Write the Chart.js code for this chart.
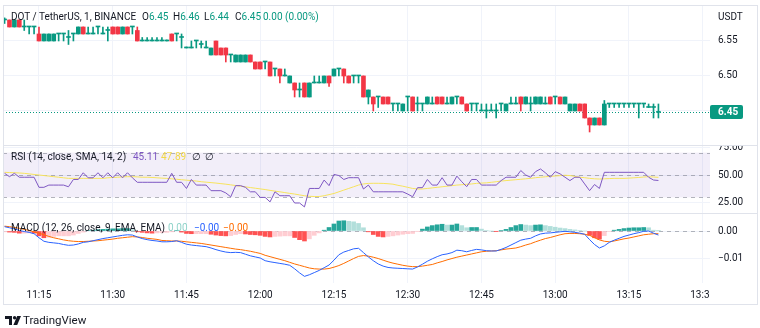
<!DOCTYPE html>
<html>
<head>
<meta charset="utf-8">
<script src="https://cdn.jsdelivr.net/npm/chart.js@4.4.0/dist/chart.umd.min.js"></script>
<style>
  html, body { margin: 0; padding: 0; background: #fff; }
  #wrap { position: relative; width: 760px; height: 328px; overflow: hidden; font-family: Roboto, "Liberation Sans", sans-serif; color: #131722; }
  #chart { position: absolute; left: 0; top: 0; }
  .t { position: absolute; white-space: nowrap; font-size: 10px; line-height: 12px; }
  .up { color: #089981; }
</style>
</head>
<body>
<div id="wrap">
  <canvas id="chart" width="760" height="328"></canvas>

  <div class="t" style="left:11px;top:11px">DOT / TetherUS, 1, BINANCE</div>
  <div class="t" style="left:142px;top:11px">O<span class="up">6.45</span></div>
  <div class="t" style="left:173px;top:11px">H<span class="up">6.46</span></div>
  <div class="t" style="left:204px;top:11px">L<span class="up">6.44</span></div>
  <div class="t" style="left:235px;top:11px">C<span class="up">6.45</span></div>
  <div class="t up" style="left:263px;top:11px">0.00 (0.00%)</div>
  <div class="t" style="left:718px;top:11px">USDT</div>

  <div class="t" style="left:11px;top:151px">RSI (14, close, SMA, 14, 2)</div>
  <div class="t" style="left:133px;top:151px;color:#7e57c2">45.11</div>
  <div class="t" style="left:161px;top:151px;color:#f2d84a">47.89</div>
  <div class="t" style="left:192px;top:151px">∅</div>
  <div class="t" style="left:205px;top:151px">∅</div>

  <div class="t" style="left:11px;top:222px">MACD (12, 26, close, 9, EMA, EMA)</div>
  <div class="t" style="left:168px;top:222px;color:#8fd3c9">0.00</div>
  <div class="t" style="left:194px;top:222px;color:#2962ff">−0.00</div>
  <div class="t" style="left:223px;top:222px;color:#ff6d00">−0.00</div>

  <svg style="position:absolute;left:5px;top:316px" width="16" height="9" viewBox="0 0 16 9">
    <path d="M0 0h7v9H4V3H0z" fill="#131722"/>
    <circle cx="9.6" cy="1.7" r="1.7" fill="#131722"/>
    <path d="M12.2 0H16l-3.8 9H8.4z" fill="#131722"/>
  </svg>
  <div class="t" style="left:23px;top:314px;font-size:11.5px;line-height:13px">TradingView</div>
</div>

<script>
// one-minute candles, DOT/USDT
const times = [
  '11:08','11:09','11:10','11:11','11:12','11:13','11:14','11:15','11:16','11:17',
  '11:18','11:19','11:20','11:21','11:22','11:23','11:24','11:25','11:26','11:27',
  '11:28','11:29','11:30','11:31','11:32','11:33','11:34','11:35','11:36','11:37',
  '11:38','11:39','11:40','11:41','11:42','11:43','11:44','11:45','11:46','11:47',
  '11:48','11:49','11:50','11:51','11:52','11:53','11:54','11:55','11:56','11:57',
  '11:58','11:59','12:00','12:01','12:02','12:03','12:04','12:05','12:06','12:07',
  '12:08','12:09','12:10','12:11','12:12','12:13','12:14','12:15','12:16','12:17',
  '12:18','12:19','12:20','12:21','12:22','12:23','12:24','12:25','12:26','12:27',
  '12:28','12:29','12:30','12:31','12:32','12:33','12:34','12:35','12:36','12:37',
  '12:38','12:39','12:40','12:41','12:42','12:43','12:44','12:45','12:46','12:47',
  '12:48','12:49','12:50','12:51','12:52','12:53','12:54','12:55','12:56','12:57',
  '12:58','12:59','13:00','13:01','13:02','13:03','13:04','13:05','13:06','13:07',
  '13:08','13:09','13:10','13:11','13:12','13:13','13:14','13:15','13:16','13:17',
  '13:18','13:19','13:20','13:21'
];

const open = [
  6.58,6.58,6.57,6.58,6.57,6.57,6.57,6.56,6.55,6.55,
  6.55,6.56,6.56,6.555,6.56,6.56,6.57,6.56,6.56,6.57,
  6.56,6.565,6.57,6.57,6.56,6.57,6.57,6.565,6.55,6.55,
  6.55,6.55,6.55,6.55,6.56,6.56,6.555,6.54,6.54,6.55,
  6.545,6.54,6.53,6.55,6.54,6.54,6.53,6.52,6.52,6.52,
  6.53,6.52,6.52,6.52,6.52,6.51,6.51,6.50,6.49,6.49,
  6.48,6.49,6.47,6.49,6.49,6.49,6.50,6.50,6.51,6.51,
  6.50,6.50,6.50,6.50,6.47,6.47,6.47,6.47,6.47,6.46,
  6.46,6.45,6.47,6.47,6.46,6.46,6.46,6.46,6.47,6.47,
  6.46,6.46,6.47,6.47,6.46,6.46,6.46,6.45,6.45,6.45,
  6.45,6.46,6.45,6.46,6.46,6.47,6.46,6.46,6.46,6.46,
  6.46,6.47,6.47,6.47,6.46,6.45,6.45,6.46,6.46,6.44,
  6.43,6.44,6.43,6.46,6.46,6.46,6.46,6.46,6.46,6.46,
  6.46,6.455,6.455,6.448
];
const high = [
  6.583,6.58,6.58,6.58,6.58,6.57,6.57,6.57,6.56,6.56,
  6.56,6.56,6.56,6.565,6.56,6.57,6.57,6.57,6.57,6.57,
  6.57,6.57,6.57,6.57,6.57,6.57,6.57,6.57,6.555,6.555,
  6.555,6.555,6.555,6.55,6.56,6.56,6.56,6.54,6.55,6.55,
  6.55,6.55,6.54,6.55,6.54,6.54,6.53,6.53,6.53,6.53,
  6.53,6.52,6.52,6.52,6.52,6.51,6.51,6.51,6.50,6.49,
  6.49,6.49,6.49,6.50,6.50,6.50,6.50,6.51,6.51,6.51,
  6.50,6.50,6.50,6.50,6.48,6.47,6.47,6.47,6.47,6.46,
  6.46,6.46,6.47,6.47,6.47,6.46,6.47,6.47,6.47,6.47,
  6.47,6.47,6.47,6.47,6.46,6.46,6.46,6.46,6.46,6.46,
  6.46,6.46,6.46,6.47,6.47,6.47,6.47,6.47,6.47,6.47,
  6.47,6.47,6.47,6.47,6.47,6.46,6.46,6.46,6.46,6.44,
  6.44,6.44,6.465,6.46,6.46,6.46,6.46,6.46,6.46,6.46,
  6.46,6.46,6.46,6.46
];
const low = [
  6.575,6.57,6.57,6.57,6.565,6.56,6.56,6.55,6.55,6.55,
  6.55,6.55,6.55,6.545,6.55,6.56,6.56,6.56,6.56,6.56,
  6.56,6.55,6.56,6.56,6.56,6.56,6.56,6.55,6.55,6.55,
  6.55,6.55,6.55,6.55,6.55,6.55,6.54,6.54,6.54,6.54,
  6.54,6.54,6.53,6.53,6.53,6.52,6.52,6.52,6.52,6.52,
  6.52,6.51,6.51,6.51,6.50,6.50,6.49,6.50,6.49,6.47,
  6.47,6.47,6.47,6.49,6.49,6.49,6.485,6.50,6.50,6.49,
  6.49,6.49,6.49,6.47,6.46,6.45,6.455,6.46,6.46,6.45,
  6.45,6.45,6.45,6.45,6.45,6.45,6.46,6.46,6.46,6.46,
  6.46,6.46,6.46,6.46,6.45,6.45,6.45,6.45,6.44,6.45,
  6.44,6.45,6.45,6.46,6.46,6.45,6.46,6.45,6.46,6.46,
  6.46,6.46,6.46,6.46,6.46,6.45,6.45,6.45,6.44,6.42,
  6.43,6.43,6.43,6.455,6.455,6.455,6.455,6.455,6.455,6.44,
  6.455,6.455,6.44,6.44
];
const close = [
  6.58,6.57,6.58,6.57,6.57,6.57,6.57,6.55,6.56,6.56,
  6.56,6.56,6.56,6.555,6.56,6.57,6.56,6.56,6.56,6.57,
  6.56,6.565,6.56,6.56,6.57,6.56,6.57,6.55,6.55,6.55,
  6.55,6.55,6.55,6.55,6.55,6.56,6.555,6.54,6.54,6.55,
  6.545,6.54,6.54,6.53,6.53,6.53,6.53,6.53,6.53,6.53,
  6.52,6.51,6.51,6.52,6.50,6.51,6.50,6.50,6.50,6.48,
  6.48,6.47,6.49,6.49,6.49,6.50,6.49,6.51,6.51,6.50,
  6.49,6.50,6.50,6.47,6.48,6.46,6.47,6.46,6.46,6.46,
  6.46,6.46,6.47,6.45,6.46,6.46,6.47,6.46,6.46,6.46,
  6.46,6.47,6.47,6.46,6.45,6.46,6.46,6.45,6.45,6.45,
  6.45,6.46,6.46,6.46,6.46,6.46,6.47,6.46,6.47,6.47,
  6.46,6.46,6.47,6.46,6.47,6.46,6.46,6.45,6.44,6.43,
  6.44,6.43,6.46,6.46,6.46,6.46,6.46,6.46,6.46,6.46,
  6.46,6.455,6.455,6.448
];

// RSI (14) and its SMA (14)
const rsi = [
  51.5,48.5,51.5,48,48,48,48,39,39,41,
  41,41,41,39.5,46,46,52,47.5,47.5,52,
  47.5,52,47.5,52,47.5,52,47.5,43.5,43.5,43.5,
  43.5,43.5,43.5,43.5,51.5,43.5,43.5,38,46,41,
  41,41,36,36,36,34,30.5,40.5,40.5,39,
  35,35,30,30,26,35,31.5,31.5,31.5,25,
  25,21.5,38,38,38,45.5,40.5,50.5,49.5,46,
  47.6,47.6,47.6,37.5,41,35,35,35,35,35,
  35,35,33,30.6,38.7,38.7,46,41,41,47.6,
  41,41,49,44,39.6,46,46,41,41,41,
  41,45,48,48,48,54,50,48,53,55.4,
  52,48,53,51,48,45,48,48,42,36,
  41.5,38,52.4,52.4,52.4,52.4,52.4,52.4,52.4,52.4,
  52.4,48,45.5,45.11
];
const rsiMa = [
  52.4,52.2,52,51.8,51.5,51,50.5,50,49.5,49,
  48.5,48,47.5,47,47,47,47,47,47,47,
  47,47.5,47.8,48,48.3,48.5,48.5,48.3,48,48,
  47.8,47.5,47.2,47,46.6,46.2,45.8,45.4,45,44.6,
  44,43.6,43.2,42.8,42.3,41.8,41.2,40.6,40,39.4,
  38.8,38.2,37.6,37,36.3,35.6,35,34.3,33.6,33,
  32.2,31.5,31,30.8,30.8,31.5,32.5,33.5,35,36.5,
  38,39.5,41,42,42.5,42.6,42.6,42.5,42.2,41.8,
  40.8,40,39,38,37.5,37.5,38,38.5,39,39.5,
  40,40.5,41,41.3,41.7,42,42.5,42.8,43,43.5,
  44,44.6,45,45.4,45.8,46.2,46.6,47,47.6,48,
  48.4,48.8,49.1,49.4,49.8,49.5,48.8,48,47.6,47,
  46.6,46.4,46.6,46.8,47,47,47,47.2,47.5,47.8,
  48.2,48.5,48.2,47.89
];

// MACD (12, 26, 9)
const macd = [
  0.0016,0.0012,0.0008,0.0002,-0.0002,-0.0005,-0.0010,-0.0025,-0.0038,-0.0042,
  -0.0044,-0.0046,-0.0050,-0.0053,-0.0052,-0.0048,-0.0042,-0.0040,-0.0036,-0.0032,
  -0.0028,-0.0025,-0.0022,-0.0019,-0.0016,-0.0014,-0.0015,-0.0022,-0.0028,-0.0032,
  -0.0035,-0.0037,-0.0040,-0.0040,-0.0039,-0.0036,-0.0042,-0.0049,-0.0052,-0.0054,
  -0.0056,-0.0058,-0.0063,-0.0069,-0.0074,-0.0078,-0.0080,-0.0079,-0.0080,-0.0086,
  -0.0092,-0.0096,-0.0100,-0.0110,-0.0114,-0.0117,-0.0120,-0.0123,-0.0127,-0.0140,
  -0.0155,-0.0168,-0.0162,-0.0154,-0.0146,-0.0136,-0.0126,-0.0108,-0.0088,-0.0078,
  -0.0072,-0.0066,-0.0064,-0.0080,-0.0096,-0.0110,-0.0122,-0.0130,-0.0135,-0.0137,
  -0.0138,-0.0139,-0.0140,-0.0141,-0.0133,-0.0123,-0.0112,-0.0103,-0.0095,-0.0088,
  -0.0085,-0.0080,-0.0071,-0.0073,-0.0077,-0.0072,-0.0068,-0.0070,-0.0073,-0.0074,
  -0.0074,-0.0068,-0.0061,-0.0052,-0.0043,-0.0034,-0.0030,-0.0027,-0.0018,-0.0011,
  -0.0008,-0.0007,-0.0005,-0.0003,-0.0001,-0.0003,-0.0005,-0.0008,-0.0012,-0.0032,
  -0.0050,-0.0063,-0.0055,-0.0042,-0.0034,-0.0027,-0.0020,-0.0015,-0.0010,-0.0006,
  -0.0001,0.0000,-0.0008,-0.0015
];
const signal = [
  0.0018,0.0016,0.0013,0.0010,0.0006,0.0002,-0.0003,-0.0008,-0.0014,-0.0020,
  -0.0025,-0.0029,-0.0033,-0.0036,-0.0038,-0.0039,-0.0039,-0.0038,-0.0037,-0.0036,
  -0.0034,-0.0032,-0.0030,-0.0027,-0.0025,-0.0023,-0.0021,-0.0022,-0.0024,-0.0027,
  -0.0029,-0.0031,-0.0035,-0.0036,-0.0037,-0.0037,-0.0038,-0.0040,-0.0042,-0.0044,
  -0.0046,-0.0049,-0.0052,-0.0055,-0.0058,-0.0061,-0.0064,-0.0067,-0.0069,-0.0072,
  -0.0075,-0.0079,-0.0083,-0.0090,-0.0095,-0.0100,-0.0105,-0.0110,-0.0116,-0.0122,
  -0.0127,-0.0132,-0.0137,-0.0140,-0.0141,-0.0141,-0.0139,-0.0134,-0.0128,-0.0120,
  -0.0111,-0.0102,-0.0094,-0.0091,-0.0093,-0.0097,-0.0102,-0.0108,-0.0114,-0.0119,
  -0.0123,-0.0127,-0.0130,-0.0132,-0.0132,-0.0130,-0.0127,-0.0124,-0.0118,-0.0113,
  -0.0107,-0.0102,-0.0097,-0.0093,-0.0089,-0.0085,-0.0081,-0.0077,-0.0075,-0.0074,
  -0.0073,-0.0070,-0.0067,-0.0065,-0.0063,-0.0058,-0.0052,-0.0047,-0.0040,-0.0034,
  -0.0028,-0.0024,-0.0019,-0.0014,-0.0010,-0.0009,-0.0009,-0.0010,-0.0012,-0.0016,
  -0.0025,-0.0033,-0.0038,-0.0040,-0.0037,-0.0033,-0.0029,-0.0026,-0.0022,-0.0018,
  -0.0014,-0.0012,-0.0010,-0.0010
];
const hist = [
  -0.0003,-0.0004,-0.0005,-0.0008,-0.0008,-0.0007,-0.0008,-0.0018,-0.0025,-0.0023,
  -0.0020,-0.0018,-0.0018,-0.0018,-0.0015,-0.0009,-0.0004,0.0002,0.0003,0.0005,
  0.0006,0.0007,0.0008,0.0008,0.0009,0.0009,0.0005,-0.0003,-0.0005,-0.0007,
  -0.0008,-0.0007,-0.0006,-0.0005,-0.0003,0.0002,-0.0004,-0.0009,-0.0010,-0.0010,
  -0.0010,-0.0010,-0.0012,-0.0015,-0.0017,-0.0018,-0.0017,-0.0013,-0.0010,-0.0011,
  -0.0013,-0.0014,-0.0016,-0.0020,-0.0022,-0.0020,-0.0019,-0.0018,-0.0018,-0.0024,
  -0.0032,-0.0037,-0.0029,-0.0016,-0.0007,0.0003,0.0013,0.0026,0.0037,0.0038,
  0.0036,0.0034,0.0028,0.0012,-0.0003,-0.0013,-0.0020,-0.0022,-0.0020,-0.0018,
  -0.0015,-0.0012,-0.0010,-0.0009,-0.0001,0.0007,0.0015,0.0020,0.0023,0.0025,
  0.0022,0.0022,0.0026,0.0020,0.0012,0.0013,0.0013,0.0007,0.0002,0.0000,
  -0.0001,0.0002,0.0006,0.0013,0.0020,0.0024,0.0022,0.0020,0.0022,0.0023,
  0.0020,0.0017,0.0014,0.0011,0.0009,0.0006,0.0004,0.0002,0.0000,-0.0016,
  -0.0025,-0.0030,-0.0017,-0.0002,0.0003,0.0006,0.0009,0.0011,0.0012,0.0012,
  0.0013,0.0012,0.0003,0.0001
];

const timeTicks = ['11:15','11:30','11:45','12:00','12:15','12:30','12:45','13:00','13:15','13:30'];
const priceTicks = [6.45, 6.50, 6.55];
const rsiTicks = [25, 50, 75];
const macdTicks = [0, -0.01];

// minutes after 11:00
function toMin(t) {
  const [h, m] = t.split(':').map(Number);
  return (h - 11) * 60 + m;
}
const xs = times.map(toMin);

const up = '#089981', down = '#f23645';
const candleColor = open.map((o, i) => close[i] >= o ? up : down);
const histColor = hist.map((v, i) => {
  const p = i ? hist[i - 1] : v;
  if (v >= 0) return v >= p ? '#26a69a' : '#b2dfdb';
  return v < p ? '#ff5252' : '#ffcdd2';
});
const last = close.length - 1;
const font = { family: 'Roboto', size: 10 };
const gridColor = '#f0f3fa';

function hline(ctx, x1, x2, y) {
  ctx.beginPath();
  ctx.moveTo(x1, Math.round(y) + 0.5);
  ctx.lineTo(x2, Math.round(y) + 0.5);
  ctx.stroke();
}

// no extra room for tick labels: panes sit exactly on the layout padding
function noPad(s) {
  s.paddingTop = 0;
  s.paddingBottom = 0;
  s.paddingLeft = 0;
  s.paddingRight = 0;
}

const panes = {
  id: 'panes',
  beforeDatasetsDraw(chart) {
    const { ctx, chartArea: a, scales } = chart;
    const yR = scales.yR, yM = scales.yM, yP = scales.yP;
    ctx.save();
    // RSI band
    const y70 = yR.getPixelForValue(70), y30 = yR.getPixelForValue(30);
    ctx.fillStyle = 'rgba(126, 87, 194, 0.1)';
    ctx.fillRect(a.left, y70, a.right - a.left, y30 - y70);
    ctx.strokeStyle = 'rgba(120, 123, 134, 0.55)';
    ctx.lineWidth = 1;
    ctx.setLineDash([4, 4]);
    [70, 50, 30].forEach(v => hline(ctx, a.left, a.right, yR.getPixelForValue(v)));
    hline(ctx, a.left, a.right, yM.getPixelForValue(0));
    // last price line
    ctx.strokeStyle = up;
    ctx.setLineDash([1, 2]);
    hline(ctx, a.left, a.right, yP.getPixelForValue(close[last]));
    ctx.restore();
  },
  afterDraw(chart) {
    const { ctx, chartArea: a, scales } = chart;
    const yR = scales.yR, yP = scales.yP;
    ctx.save();
    ctx.fillStyle = '#fff';
    ctx.fillRect(a.right, a.bottom + 1, 760 - a.right, 22);
    ctx.fillRect(a.right + 1, yR.top - 8, 50, 8);
    ctx.strokeStyle = '#e0e3eb';
    ctx.lineWidth = 1;
    hline(ctx, 3, 757, yP.bottom - 0.5);
    hline(ctx, 3, 757, yR.bottom - 0.5);
    ctx.strokeRect(3.5, 5.5, 754, 299);
    // last price label
    const yc = Math.round(yP.getPixelForValue(close[last]));
    ctx.fillStyle = up;
    ctx.beginPath();
    ctx.roundRect(a.right, yc - 7, 33, 14, 2);
    ctx.fill();
    ctx.fillStyle = '#fff';
    ctx.font = 'bold 10px Roboto';
    ctx.textBaseline = 'middle';
    ctx.fillText(close[last].toFixed(2), 718, yc + 0.5);
    ctx.restore();
  }
};

function yAxis(weight, min, max, ticks, fmt) {
  return {
    position: 'right',
    stack: 'panes',
    stackWeight: weight,
    min: min,
    max: max,
    bounds: 'data',
    offset: false,
    grid: { color: gridColor, drawTicks: false },
    border: { display: false },
    ticks: { autoSkip: false, padding: 8, color: '#131722', font: font, callback: fmt },
    afterBuildTicks: s => { s.ticks = ticks.map(v => ({ value: v })); },
    afterFit: s => { s.width = 47; noPad(s); }
  };
}

new Chart(document.getElementById('chart'), {
  type: 'bar',
  data: {
    datasets: [
      {
        label: 'body',
        data: xs.map((x, i) => ({ x: x, y: [open[i], close[i]] })),
        yAxisID: 'yP',
        backgroundColor: candleColor,
        barThickness: 4,
        minBarLength: 1,
        grouped: false
      },
      {
        label: 'wick',
        data: xs.map((x, i) => ({ x: x, y: [low[i], high[i]] })),
        yAxisID: 'yP',
        backgroundColor: candleColor,
        barThickness: 1,
        minBarLength: 1,
        grouped: false
      },
      {
        type: 'line',
        label: 'RSI',
        data: xs.map((x, i) => ({ x: x, y: rsi[i] })),
        yAxisID: 'yR',
        borderColor: '#7e57c2',
        borderWidth: 1,
        pointRadius: 0
      },
      {
        type: 'line',
        label: 'RSI MA',
        data: xs.map((x, i) => ({ x: x, y: rsiMa[i] })),
        yAxisID: 'yR',
        borderColor: '#f7e35c',
        borderWidth: 1,
        pointRadius: 0
      },
      {
        type: 'line',
        label: 'MACD',
        data: xs.map((x, i) => ({ x: x, y: macd[i] })),
        yAxisID: 'yM',
        borderColor: '#2962ff',
        borderWidth: 1,
        pointRadius: 0
      },
      {
        type: 'line',
        label: 'Signal',
        data: xs.map((x, i) => ({ x: x, y: signal[i] })),
        yAxisID: 'yM',
        borderColor: '#ff6d00',
        borderWidth: 1,
        pointRadius: 0
      },
      {
        label: 'Histogram',
        data: xs.map((x, i) => ({ x: x, y: hist[i] })),
        yAxisID: 'yM',
        backgroundColor: histColor,
        barThickness: 4,
        grouped: false
      }
    ]
  },
  options: {
    responsive: false,
    animation: false,
    events: [],
    layout: { padding: { left: 3, top: 5, right: 3, bottom: 24 } },
    plugins: { legend: { display: false }, tooltip: { enabled: false } },
    scales: {
      x: {
        type: 'linear',
        position: 'bottom',
        min: 7.68,
        max: 151.49,
        bounds: 'data',
        offset: false,
        grid: { color: gridColor, drawTicks: false, offset: false },
        border: { display: false },
        ticks: {
          autoSkip: false, maxRotation: 0, padding: 6, color: '#131722', font: font,
          callback: (v, i) => timeTicks[i]
        },
        afterBuildTicks: s => { s.ticks = timeTicks.map(t => ({ value: toMin(t) })); },
        afterFit: s => { s.height = 21; noPad(s); }
      },
      yP: yAxis(140, 6.4014, 6.6014, priceTicks, v => v.toFixed(2)),
      yR: yAxis(68, 16.07, 76.79, rsiTicks, v => v.toFixed(2)),
      yM: yAxis(70, -0.01926, 0.00667, macdTicks, v => v.toFixed(2).replace('-', '−'))
    }
  },
  plugins: [panes]
});
</script>
</body>
</html>
